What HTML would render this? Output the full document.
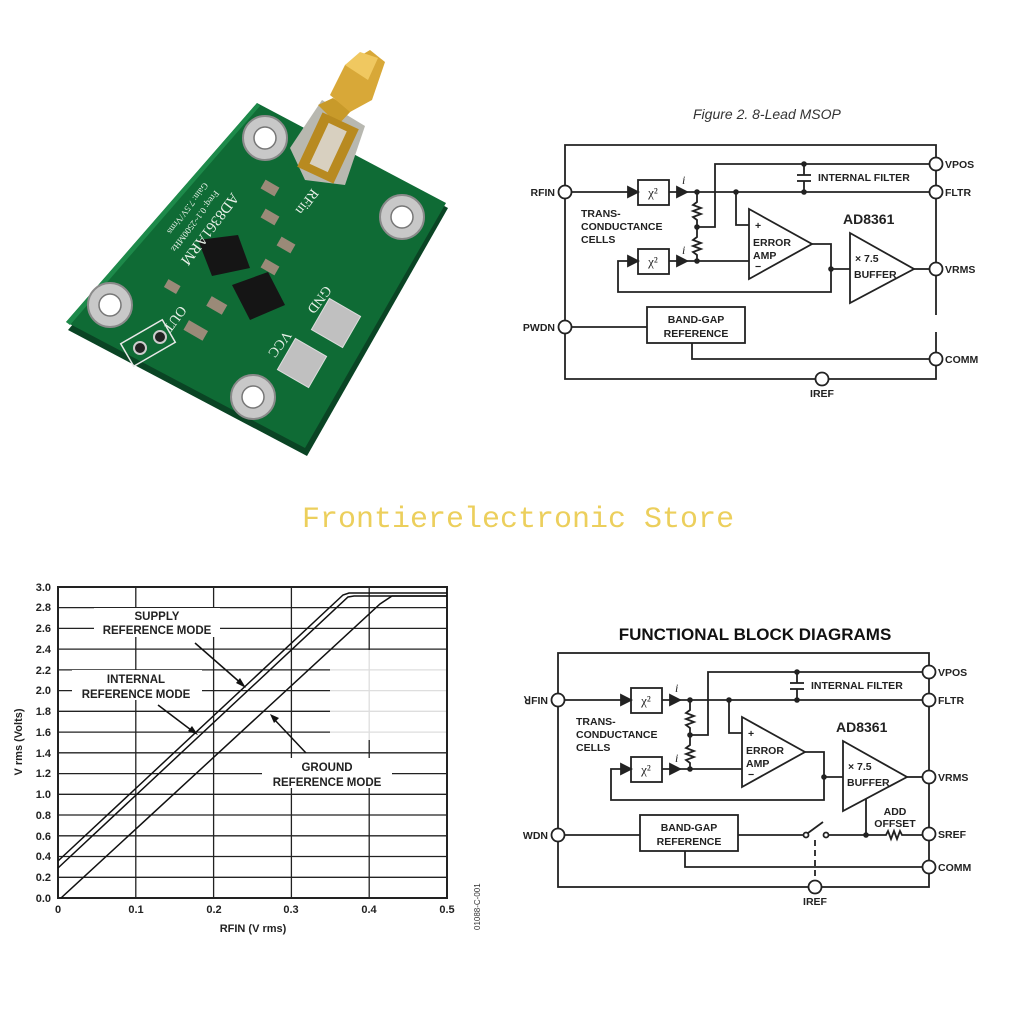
<!DOCTYPE html>
<html><head><meta charset="utf-8"><style>
html,body{margin:0;padding:0;background:#fff;}
svg{display:block;}
.b{font-family:"Liberation Sans",sans-serif;font-weight:bold;}
</style></head><body>
<svg width="1024" height="1024" viewBox="0 0 1024 1024" xmlns="http://www.w3.org/2000/svg">
<rect width="1024" height="1024" fill="#fff"/>

<!-- PCB -->
<polygon points="68,330 258,106 448,208 307,456" fill="#0a4424"/>
<polygon points="66,322 257,103 446,203 305,448" fill="#0f6b35"/>
<polygon points="66,322 257,103 260,106 70,325" fill="#1d8a4a"/>
<g fill="#c8c8c8" stroke="#8a8a8a" stroke-width="2">
<circle cx="265" cy="138" r="22"/><circle cx="402" cy="217" r="22"/>
<circle cx="110" cy="305" r="22"/><circle cx="253" cy="397" r="22"/>
</g>
<g fill="#fff" stroke="#777" stroke-width="1.5">
<circle cx="265" cy="138" r="11"/><circle cx="402" cy="217" r="11"/>
<circle cx="110" cy="305" r="11"/><circle cx="253" cy="397" r="11"/>
</g>
<!-- SMA -->
<polygon points="290,148 322,100 365,126 345,185 305,180" fill="#b8b8b0"/>
<polygon points="318,105 333,98 352,110 338,125" fill="#c89a2a"/>
<polygon points="330,95 345,65 370,50 385,62 372,100 350,112" fill="#d8a838"/>
<polygon points="345,65 360,52 378,58 368,80" fill="#f0c860"/>
<rect x="308" y="118" width="40" height="60" fill="#b88a20" transform="rotate(25 328 148)"/>
<rect x="318" y="125" width="20" height="45" fill="#d8d0c0" transform="rotate(25 328 148)"/>
<!-- components -->
<g fill="#151515">
<polygon points="198,240 238,235 250,268 212,276"/>
<polygon points="232,285 268,272 285,305 250,320"/>
</g>
<g fill="#9a8a78">
<rect x="262" y="183" width="16" height="10" transform="rotate(30 270 188)"/>
<rect x="262" y="212" width="16" height="10" transform="rotate(30 270 217)"/>
<rect x="278" y="240" width="16" height="10" transform="rotate(30 286 245)"/>
<rect x="262" y="262" width="16" height="10" transform="rotate(30 270 267)"/>
<rect x="208" y="300" width="18" height="11" transform="rotate(30 217 305)"/>
<rect x="185" y="325" width="22" height="11" transform="rotate(30 196 330)"/>
<rect x="165" y="282" width="14" height="9" transform="rotate(30 172 287)"/>
</g>
<g fill="#c0c0c0" stroke="#ddd">
<rect x="318" y="305" width="36" height="36" transform="rotate(30 336 323)"/>
<rect x="284" y="345" width="36" height="36" transform="rotate(30 302 363)"/>
</g>
<rect x="124" y="330" width="48" height="26" fill="none" stroke="#e8e8e8" stroke-width="1.5" transform="rotate(-30 148 343)"/>
<circle cx="140" cy="348" r="6" fill="#222" stroke="#ccc" stroke-width="2"/>
<circle cx="160" cy="337" r="6" fill="#222" stroke="#ccc" stroke-width="2"/>
<g fill="#e8f0e8" font-family="Liberation Serif,serif">
<text x="0" y="0" font-size="15" transform="translate(232,192) rotate(127)">AD8361ARM</text>
<text x="0" y="0" font-size="9" transform="translate(215,190) rotate(127)">Freq: 0.1~2500MHz</text>
<text x="0" y="0" font-size="9" transform="translate(204,182) rotate(127)">Gain: 7.5V/Vrms</text>
<text x="0" y="0" font-size="14" transform="translate(312,188) rotate(127)">RFin</text>
<text x="0" y="0" font-size="14" transform="translate(325,285) rotate(127)">GND</text>
<text x="0" y="0" font-size="14" transform="translate(285,330) rotate(127)">VCC</text>
<text x="0" y="0" font-size="14" transform="translate(180,305) rotate(127)">OUT</text>
</g>

<!-- watermark -->
<text x="302" y="527" font-family="Liberation Mono,monospace" font-size="30" fill="#eccf5c">Frontierelectronic Store</text>

<!-- TOP DIAGRAM -->
<text x="693" y="119" font-family="Liberation Sans,sans-serif" font-style="italic" font-size="14" fill="#333">Figure 2. 8-Lead MSOP</text>
<g transform="translate(7,-508)" stroke="#222" stroke-width="1.8" fill="none">
<polyline points="929,823 929,653 558,653 558,887 929,887 929,840"/>
<line x1="565" y1="700" x2="627" y2="700"/><polygon points="631,700 621,695 621,705" fill="#222"/>
<rect x="631" y="688" width="31" height="25"/>
<line x1="662" y1="700" x2="922" y2="700"/><polygon points="680,700 670,695 670,705" fill="#222"/>
<polyline points="690,700 690,710 686,713 694,716 686,719 694,722 686,725 690,728 690,745 686,748 694,751 686,754 694,757 686,760 690,763 690,769"/>
<polyline points="690,735 708,735 708,672 922,672"/>
<line x1="797" y1="672" x2="797" y2="683"/><line x1="790" y1="683" x2="804" y2="683"/><line x1="790" y1="689" x2="804" y2="689"/><line x1="797" y1="689" x2="797" y2="700"/>
<rect x="631" y="757" width="31" height="25"/>
<line x1="662" y1="769" x2="742" y2="769"/><polygon points="680,769 670,764 670,774" fill="#222"/>
<polyline points="729,700 729,733 742,733"/>
<polygon points="742,717 742,787 805,752" fill="#fff"/>
<polyline points="805,752 824,752 824,800 611,800 611,769 627,769"/><polygon points="631,769 621,764 621,774" fill="#222"/>
<line x1="824" y1="777" x2="843" y2="777"/>
<polygon points="843,741 843,811 907,777" fill="#fff"/>
<line x1="907" y1="777" x2="922" y2="777"/>
<line x1="565" y1="835" x2="640" y2="835"/>
<rect x="640" y="815" width="98" height="36"/>
<polyline points="685,851 685,867 922,867"/>
<g fill="#fff"><circle cx="558" cy="700" r="6.5"/><circle cx="558" cy="835" r="6.5"/><circle cx="929" cy="672" r="6.5"/><circle cx="929" cy="700" r="6.5"/><circle cx="929" cy="777" r="6.5"/><circle cx="929" cy="867" r="6.5"/><circle cx="815" cy="887" r="6.5"/></g>
<g fill="#222" stroke="none"><circle cx="690" cy="700" r="2.8"/><circle cx="729" cy="700" r="2.8"/><circle cx="797" cy="700" r="2.8"/><circle cx="797" cy="672" r="2.8"/><circle cx="690" cy="735" r="2.8"/><circle cx="690" cy="769" r="2.8"/><circle cx="824" cy="777" r="2.8"/></g>
<g class="b" fill="#222" stroke="none" font-size="10.5">
<text x="548" y="704" text-anchor="end">RFIN</text><text x="548" y="839" text-anchor="end">PWDN</text>
<text x="938" y="676">VPOS</text><text x="938" y="704">FLTR</text><text x="938" y="781">VRMS</text><text x="938" y="871">COMM</text>
<text x="815" y="905" text-anchor="middle">IREF</text>
<text x="574" y="725">TRANS-</text><text x="574" y="738">CONDUCTANCE</text><text x="574" y="751">CELLS</text>
<text x="811" y="689">INTERNAL FILTER</text>
<text x="836" y="732" font-size="14">AD8361</text>
<text x="748" y="737">+</text><text x="746" y="754">ERROR</text><text x="746" y="767">AMP</text><text x="748" y="778">−</text>
<text x="848" y="770">× 7.5</text><text x="847" y="786">BUFFER</text>
<text x="689" y="831" text-anchor="middle">BAND-GAP</text><text x="689" y="845" text-anchor="middle">REFERENCE</text>
<text x="675" y="692" font-weight="normal" font-style="italic" font-family="Liberation Serif,serif" font-size="12">i</text><text x="675" y="762" font-weight="normal" font-style="italic" font-family="Liberation Serif,serif" font-size="12">i</text>
<text x="646" y="705" font-weight="normal" font-family="Liberation Serif,serif" font-size="13" text-anchor="middle">χ²</text><text x="646" y="774" font-weight="normal" font-family="Liberation Serif,serif" font-size="13" text-anchor="middle">χ²</text>
</g>
</g>

<!-- BOTTOM DIAGRAM -->
<text x="755" y="640" class="b" font-size="17" text-anchor="middle" fill="#111">FUNCTIONAL BLOCK DIAGRAMS</text>
<g stroke="#222" stroke-width="1.8" fill="none">
<rect x="558" y="653" width="371" height="234"/>
<line x1="565" y1="700" x2="627" y2="700"/><polygon points="631,700 621,695 621,705" fill="#222"/>
<rect x="631" y="688" width="31" height="25"/>
<line x1="662" y1="700" x2="922" y2="700"/><polygon points="680,700 670,695 670,705" fill="#222"/>
<polyline points="690,700 690,710 686,713 694,716 686,719 694,722 686,725 690,728 690,745 686,748 694,751 686,754 694,757 686,760 690,763 690,769"/>
<polyline points="690,735 708,735 708,672 922,672"/>
<line x1="797" y1="672" x2="797" y2="683"/><line x1="790" y1="683" x2="804" y2="683"/><line x1="790" y1="689" x2="804" y2="689"/><line x1="797" y1="689" x2="797" y2="700"/>
<rect x="631" y="757" width="31" height="25"/>
<line x1="662" y1="769" x2="742" y2="769"/><polygon points="680,769 670,764 670,774" fill="#222"/>
<polyline points="729,700 729,733 742,733"/>
<polygon points="742,717 742,787 805,752" fill="#fff"/>
<polyline points="805,752 824,752 824,800 611,800 611,769 627,769"/><polygon points="631,769 621,764 621,774" fill="#222"/>
<line x1="824" y1="777" x2="843" y2="777"/>
<polygon points="843,741 843,811 907,777" fill="#fff"/>
<line x1="907" y1="777" x2="922" y2="777"/>
<line x1="565" y1="835" x2="640" y2="835"/>
<rect x="640" y="815" width="98" height="36"/>
<line x1="738" y1="835" x2="804" y2="835"/>
<line x1="808" y1="833" x2="823" y2="822"/>
<line x1="815" y1="840" x2="815" y2="880" stroke-dasharray="6,4"/>
<polyline points="828,835 886,835 888,831 891,839 894,831 897,839 900,831 902,835 922,835"/>
<line x1="866" y1="835" x2="866" y2="799"/>
<polyline points="685,851 685,867 922,867"/>
<circle cx="806" cy="835" r="2.5" fill="#fff"/><circle cx="826" cy="835" r="2.5" fill="#fff"/>
<g fill="#fff"><circle cx="558" cy="700" r="6.5"/><circle cx="558" cy="835" r="6.5"/><circle cx="929" cy="672" r="6.5"/><circle cx="929" cy="700" r="6.5"/><circle cx="929" cy="777" r="6.5"/><circle cx="929" cy="834" r="6.5"/><circle cx="929" cy="867" r="6.5"/><circle cx="815" cy="887" r="6.5"/></g>
<g fill="#222" stroke="none"><circle cx="690" cy="700" r="2.8"/><circle cx="729" cy="700" r="2.8"/><circle cx="797" cy="700" r="2.8"/><circle cx="797" cy="672" r="2.8"/><circle cx="690" cy="735" r="2.8"/><circle cx="690" cy="769" r="2.8"/><circle cx="824" cy="777" r="2.8"/><circle cx="866" cy="835" r="2.8"/></g>
<g class="b" fill="#222" stroke="none" font-size="10.5">
<text x="548" y="704" text-anchor="end">ꓤFIN</text><text x="548" y="839" text-anchor="end">WDN</text>
<text x="938" y="676">VPOS</text><text x="938" y="704">FLTR</text><text x="938" y="781">VRMS</text><text x="938" y="838">SREF</text><text x="938" y="871">COMM</text>
<text x="815" y="905" text-anchor="middle">IREF</text>
<text x="576" y="725">TRANS-</text><text x="576" y="738">CONDUCTANCE</text><text x="576" y="751">CELLS</text>
<text x="811" y="689">INTERNAL FILTER</text>
<text x="836" y="732" font-size="14">AD8361</text>
<text x="748" y="737">+</text><text x="746" y="754">ERROR</text><text x="746" y="767">AMP</text><text x="748" y="778">−</text>
<text x="848" y="770">× 7.5</text><text x="847" y="786">BUFFER</text>
<text x="895" y="815" text-anchor="middle">ADD</text><text x="895" y="827" text-anchor="middle">OFFSET</text>
<text x="689" y="831" text-anchor="middle">BAND-GAP</text><text x="689" y="845" text-anchor="middle">REFERENCE</text>
<text x="675" y="692" font-weight="normal" font-style="italic" font-family="Liberation Serif,serif" font-size="12">i</text><text x="675" y="762" font-weight="normal" font-style="italic" font-family="Liberation Serif,serif" font-size="12">i</text>
<text x="646" y="705" font-weight="normal" font-family="Liberation Serif,serif" font-size="13" text-anchor="middle">χ²</text><text x="646" y="774" font-weight="normal" font-family="Liberation Serif,serif" font-size="13" text-anchor="middle">χ²</text>
</g>
</g>

<!-- GRAPH -->
<g stroke="#222" stroke-width="1.3">
<line x1="58" y1="877.3" x2="447" y2="877.3"/><line x1="58" y1="856.5" x2="447" y2="856.5"/><line x1="58" y1="835.8" x2="447" y2="835.8"/><line x1="58" y1="815" x2="447" y2="815"/><line x1="58" y1="794.3" x2="447" y2="794.3"/><line x1="58" y1="773.6" x2="447" y2="773.6"/><line x1="58" y1="752.8" x2="447" y2="752.8"/><line x1="58" y1="732.1" x2="447" y2="732.1"/><line x1="58" y1="711.3" x2="447" y2="711.3"/><line x1="58" y1="690.6" x2="447" y2="690.6"/><line x1="58" y1="669.9" x2="447" y2="669.9"/><line x1="58" y1="649.1" x2="447" y2="649.1"/><line x1="58" y1="628.4" x2="447" y2="628.4"/><line x1="58" y1="607.6" x2="447" y2="607.6"/>
<line x1="135.8" y1="587" x2="135.8" y2="898"/><line x1="213.6" y1="587" x2="213.6" y2="898"/><line x1="291.4" y1="587" x2="291.4" y2="898"/><line x1="369.2" y1="587" x2="369.2" y2="898"/>
</g>
<rect x="330" y="650" width="117" height="90" fill="#fff" opacity="0.85"/>
<rect x="58" y="587" width="389" height="311" fill="none" stroke="#222" stroke-width="2"/>
<g fill="#fff">
<rect x="94" y="608" width="126" height="29"/><rect x="72" y="670" width="130" height="30"/><rect x="262" y="758" width="130" height="30"/>
</g>
<g fill="none" stroke="#111" stroke-width="1.5">
<polyline points="58,861 343,595 349,593 447,593"/>
<polyline points="58,868 348,597 354,596 447,596"/>
<polyline points="61,898 380,604 392,596 447,596"/>
<line x1="195" y1="643" x2="243" y2="685"/><line x1="158" y1="705" x2="195" y2="733"/><line x1="306" y1="753" x2="273" y2="718"/>
</g>
<g fill="#111"><polygon points="246,688 236,683 240,678"/><polygon points="198,735 188,731 192,726"/><polygon points="270,714 279,718 274,723"/></g>
<g class="b" font-size="11.5" fill="#222" text-anchor="middle">
<text x="157" y="620">SUPPLY</text><text x="157" y="634">REFERENCE MODE</text>
<text x="136" y="683">INTERNAL</text><text x="136" y="698">REFERENCE MODE</text>
<text x="327" y="771">GROUND</text><text x="327" y="786">REFERENCE MODE</text>
</g>
<g class="b" font-size="11" fill="#222" text-anchor="end">
<text x="51" y="902">0.0</text><text x="51" y="881">0.2</text><text x="51" y="860">0.4</text><text x="51" y="840">0.6</text><text x="51" y="819">0.8</text><text x="51" y="798">1.0</text><text x="51" y="777">1.2</text><text x="51" y="757">1.4</text><text x="51" y="736">1.6</text><text x="51" y="715">1.8</text><text x="51" y="694">2.0</text><text x="51" y="674">2.2</text><text x="51" y="653">2.4</text><text x="51" y="632">2.6</text><text x="51" y="611">2.8</text><text x="51" y="591">3.0</text>
</g>
<g class="b" font-size="11" fill="#222" text-anchor="middle">
<text x="58" y="913">0</text><text x="136" y="913">0.1</text><text x="214" y="913">0.2</text><text x="291" y="913">0.3</text><text x="369" y="913">0.4</text><text x="447" y="913">0.5</text>
<text x="253" y="932">RFIN (V rms)</text>
<text x="0" y="0" transform="translate(22,742) rotate(-90)">V rms (Volts)</text>
</g>
<text x="0" y="0" transform="translate(480,930) rotate(-90)" font-family="Liberation Sans,sans-serif" font-size="8" fill="#333">01088-C-001</text>
</svg>
</body></html>
